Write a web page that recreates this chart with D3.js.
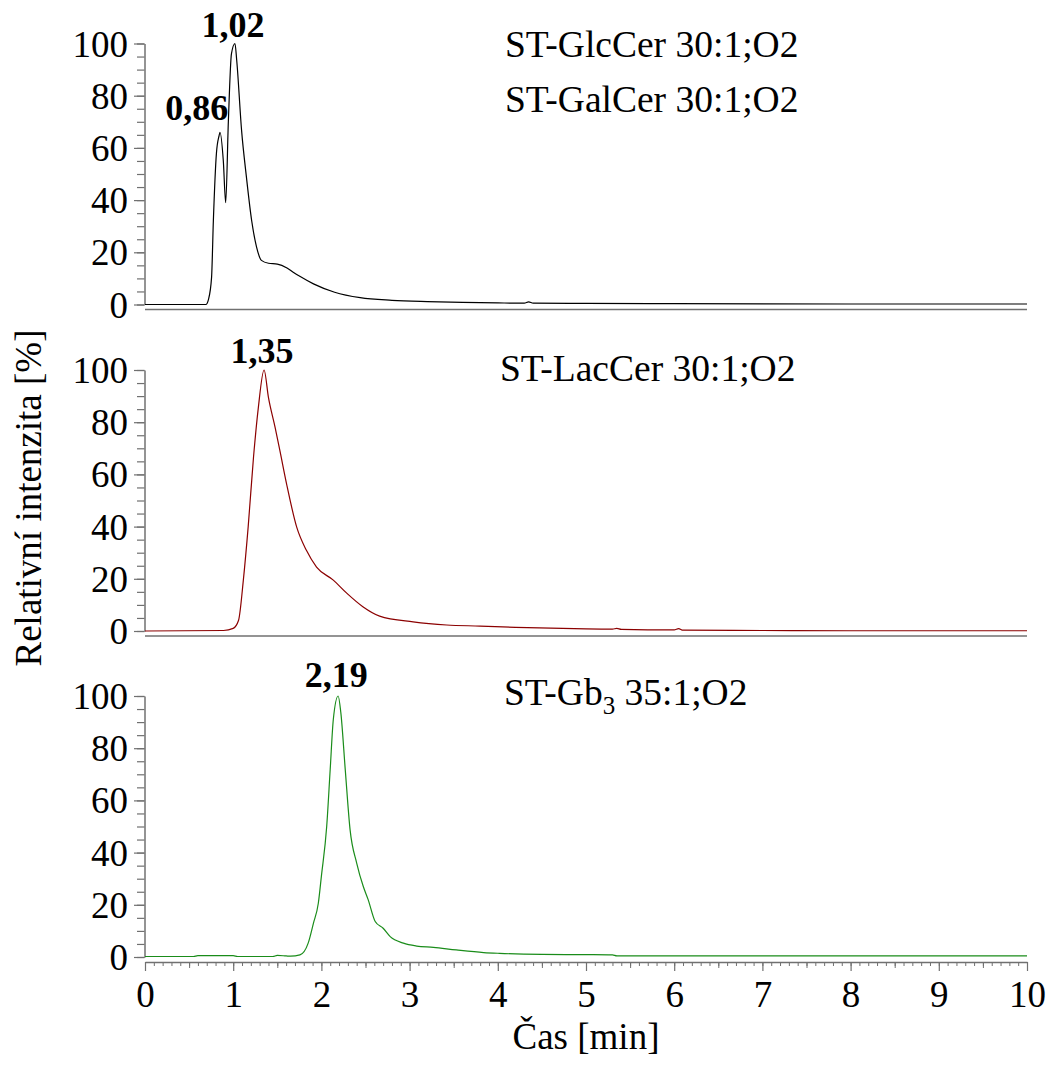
<!DOCTYPE html>
<html>
<head>
<meta charset="utf-8">
<script src="https://cdn.jsdelivr.net/npm/d3@7"></script>
<style>
  html, body { margin: 0; padding: 0; background: #fff; }
</style>
</head>
<body>
<svg id="chart" width="1059" height="1066"></svg>
<script>
// ---- data ----
const glcTime = [0, 0.69, 0.72, 0.755, 0.775, 0.81, 0.84, 0.85, 0.888, 0.915, 0.945, 0.98, 1.02, 1.04, 1.095, 1.15, 1.21, 1.265, 1.32, 1.40, 1.50, 1.61, 1.68, 1.76, 1.91, 2.15, 2.44, 2.8, 3.2, 3.6, 4.0, 4.3, 4.35, 4.4, 5.0, 6.0, 8.0, 10];
const glcValue = [0, 0, 2, 10.5, 32, 58, 64.7, 66, 55, 39, 70, 96, 100, 93.5, 66.7, 48.8, 32, 22, 16.9, 15.8, 15.5, 14, 12.4, 10.7, 7.9, 4.7, 2.6, 1.6, 1.1, 0.8, 0.6, 0.5, 1.0, 0.5, 0.4, 0.3, 0.2, 0.2];

const lacTime = [0, 0.89, 1.0, 1.06, 1.115, 1.17, 1.23, 1.285, 1.35, 1.40, 1.475, 1.53, 1.605, 1.72, 1.83, 1.945, 2.135, 2.29, 2.47, 2.66, 3.04, 3.42, 3.8, 4.2, 4.6, 5.0, 5.3, 5.35, 5.4, 6.0, 6.05, 6.1, 7.0, 8.0, 10];
const lacValue = [0, 0.2, 1, 4, 19.5, 40, 66.5, 85.6, 100, 89.4, 78, 69, 56.4, 39.8, 30.9, 24.5, 19.5, 14.4, 9.3, 5.7, 3.5, 2.3, 1.9, 1.4, 1.1, 0.8, 0.7, 1.0, 0.6, 0.4, 0.9, 0.3, 0.2, 0.1, 0.1];

const gbTime = [0, 0.55, 0.6, 1.0, 1.05, 1.45, 1.5, 1.6, 1.65, 1.757, 1.85, 1.91, 1.965, 2.0, 2.06, 2.10, 2.135, 2.19, 2.22, 2.27, 2.325, 2.40, 2.475, 2.53, 2.61, 2.70, 2.78, 2.93, 3.08, 3.27, 3.53, 3.84, 4.02, 4.5, 5.0, 5.3, 5.35, 7, 10];
const gbValue = [0.2, 0.2, 0.5, 0.5, 0.2, 0.2, 0.6, 0.4, 0.3, 0.8, 5.3, 13, 20.6, 31, 50, 72, 91, 100, 93.7, 72, 48.8, 36, 27, 22, 13.6, 11, 7.8, 5.3, 4.2, 3.7, 2.7, 1.7, 1.4, 1.0, 0.9, 0.8, 0.4, 0.4, 0.4];

const seriesColors = ["#000000", "#8b0000", "#1a8c1a"];
const peakLabels = [[{t: 0.86, v: 66, text: "0,86"}, {t: 1.02, v: 100, text: "1,02"}],
                    [{t: 1.35, v: 100, text: "1,35"}],
                    [{t: 2.19, v: 100, text: "2,19"}]];
const legendLabels = [["ST-GlcCer 30:1;O2", "ST-GalCer 30:1;O2"], ["ST-LacCer 30:1;O2"], ["ST-Gb|3| 35:1;O2"]];
const yTicks = [0, 20, 40, 60, 80, 100];
const xTicks = [0, 1, 2, 3, 4, 5, 6, 7, 8, 9, 10];
const xTitle = "Čas [min]";
const yTitle = "Relativní intenzita [%]";

// ---- layout ----
const FONT = "'Liberation Serif', Tinos, 'Times New Roman', Times, serif";
const svg = d3.select("#chart").attr("font-family", FONT);
const x = d3.scaleLinear().domain([0, 10]).range([145, 1027]);
const panelZero = [304.5, 631, 957];
const panelH = 261;
const axisGray = "#707070";
const fontSize = 37;
const legendSize = 37.5;
const legendX = [505, 500, 504];
const legendDy = [13, 11, 9];
// label offsets (dx, dy) relative to the peak point
const peakOffsets = [[[-24, -12], [-2, -7]], [[-2, -7]], [[-2, -9]]];

const series = [
  {t: glcTime, v: glcValue},
  {t: lacTime, v: lacValue},
  {t: gbTime, v: gbValue}
];

series.forEach((s, i) => {
  const y0 = panelZero[i];
  const y = d3.scaleLinear().domain([0, 100]).range([y0, y0 - panelH]);
  const g = svg.append("g");

  // minor y ticks
  const minor = g.append("g").attr("transform", `translate(${x(0) - 0.5},0)`)
    .call(d3.axisLeft(y).tickValues(d3.range(0, 101, 5)).tickSize(7.5).tickSizeOuter(0).tickFormat(""));
  minor.select(".domain").attr("stroke", axisGray).attr("stroke-width", 1.5);
  minor.selectAll(".tick line").attr("stroke", axisGray).attr("stroke-width", 1.2);

  // major y ticks
  const major = g.append("g").attr("transform", `translate(${x(0) - 0.5},0)`)
    .call(d3.axisLeft(y).tickValues(yTicks).tickSize(10.5).tickSizeOuter(0).tickPadding(6));
  major.attr("font-family", FONT);
  major.select(".domain").remove();
  major.selectAll(".tick line").attr("stroke", axisGray).attr("stroke-width", 1.2);
  major.selectAll(".tick text")
    .attr("font-size", fontSize).attr("fill", "#000")
    .attr("font-family", FONT).attr("dy", "0.34em");

  // baseline separator
  if (i < 2) {
    g.append("line")
      .attr("x1", x(0)).attr("x2", x(10))
      .attr("y1", y0 + 5).attr("y2", y0 + 5)
      .attr("stroke", axisGray).attr("stroke-width", 1.5);
  }

  // trace
  const pts = s.t.map((t, k) => [t, s.v[k]]);
  g.append("path")
    .datum(pts)
    .attr("fill", "none")
    .attr("stroke", seriesColors[i])
    .attr("stroke-width", 1.2)
    .attr("stroke-linejoin", "round")
    .attr("d", d3.line().curve(d3.curveMonotoneX).x(d => x(d[0])).y(d => y(d[1])));

  // peak labels
  peakLabels[i].forEach((p, k) => {
    const off = peakOffsets[i][k];
    g.append("text")
      .attr("x", x(p.t) + off[0])
      .attr("y", y(p.v) + off[1])
      .attr("text-anchor", "middle")
      .attr("font-family", FONT)
      .attr("font-weight", "bold")
      .attr("font-size", 36)
      .text(p.text);
  });

  // legend labels
  legendLabels[i].forEach((lab, k) => {
    const tx = g.append("text")
      .attr("x", legendX[i])
      .attr("y", y(100) + legendDy[i] + k * 55)
      .attr("font-family", FONT)
      .attr("font-size", legendSize);
    const parts = lab.split("|");
    parts.forEach((part, pi) => {
      if (pi % 2 === 1) {
        tx.append("tspan").attr("font-size", 25).attr("dy", 9).text(part);
      } else {
        tx.append("tspan").attr("dy", pi > 0 ? -9 : 0).text(part);
      }
    });
  });
});

// ---- x axis (bottom panel) ----
const xAxisY = panelZero[2] + 5;
const xg = svg.append("g").attr("transform", `translate(0,${xAxisY})`);
const xMinor = xg.append("g")
  .call(d3.axisBottom(x).tickValues(d3.range(0, 101, 1).map(d => d / 10)).tickSize(4).tickSizeOuter(0).tickFormat(""));
xMinor.select(".domain").attr("stroke", axisGray).attr("stroke-width", 1.5);
xMinor.selectAll(".tick line").attr("stroke", axisGray).attr("stroke-width", 1);
const xMid = xg.append("g")
  .call(d3.axisBottom(x).tickValues(d3.range(0.5, 10, 1)).tickSize(6).tickSizeOuter(0).tickFormat(""));
xMid.select(".domain").remove();
xMid.selectAll(".tick line").attr("stroke", axisGray).attr("stroke-width", 1);
const xMajor = xg.append("g")
  .call(d3.axisBottom(x).tickValues(xTicks).tickSize(9).tickSizeOuter(0).tickPadding(10));
xMajor.attr("font-family", FONT);
xMajor.select(".domain").remove();
xMajor.selectAll(".tick line").attr("stroke", axisGray).attr("stroke-width", 1.2);
xMajor.selectAll(".tick text")
  .attr("font-size", fontSize).attr("fill", "#000")
  .attr("font-family", FONT);

// ---- titles ----
svg.append("text")
  .attr("x", x(5))
  .attr("y", 1049)
  .attr("text-anchor", "middle")
  .attr("font-family", FONT)
  .attr("font-size", fontSize)
  .text(xTitle);

svg.append("text")
  .attr("transform", "translate(41,498) rotate(-90)")
  .attr("text-anchor", "middle")
  .attr("font-family", FONT)
  .attr("font-size", fontSize)
  .text(yTitle);
</script>
</body>
</html>
